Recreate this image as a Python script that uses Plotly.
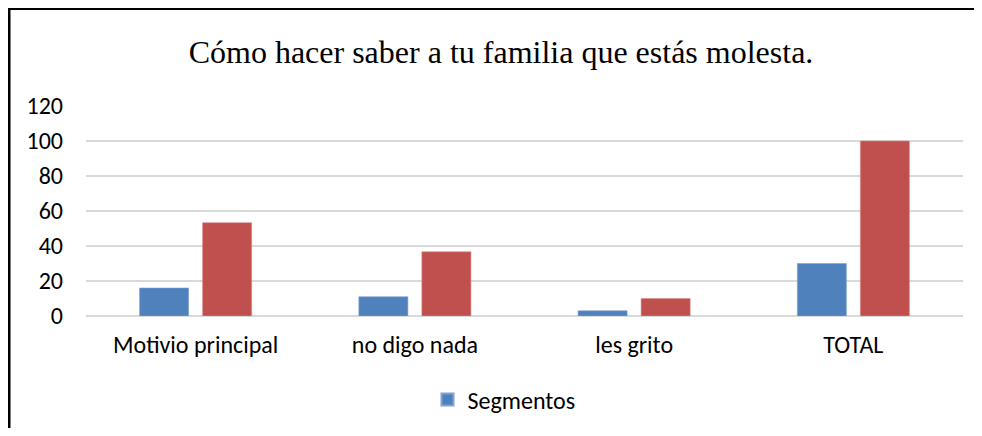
import plotly.graph_objects as go

categories = ["Motivio principal", "no digo nada", "les grito", "TOTAL"]
segmentos = [16, 11, 3, 30]
porcentaje = [53.33, 36.67, 10, 100]
y_ticks = [0, 20, 40, 60, 80, 100, 120]

OFF = 8  # default page body margin
W, H = 982 - OFF, 436 - 2 * OFF
L, T = 86 - OFF, 106 - OFF
R = W - (963 - OFF)
B = H - (316 - OFF)
pw, ph = W - L - R, H - T - B

def px(x):
    return (x - OFF - L) / pw

def py(y):
    return (H - B - (y - OFF)) / ph

fig = go.Figure()
fig.add_trace(go.Bar(x=categories, y=segmentos, name="Segmentos",
                     marker=dict(color="#4F81BD", line=dict(color="#7fa3d0", width=0.6))))
fig.add_trace(go.Bar(x=categories, y=porcentaje, name="Porcentaje", showlegend=False,
                     marker=dict(color="#C0504D", line=dict(color="#d98a88", width=0.6))))

border_path = "M {:.5f},{:.5f} L {:.5f},{:.5f} L {:.5f},{:.5f}".format(
    px(9), py(436), px(9), py(8.5), px(982), py(8.5))

fig.update_layout(
    width=W, height=H,
    margin=dict(l=L, r=R, t=T, b=B),
    paper_bgcolor="white", plot_bgcolor="white",
    barmode="group", bargap=0.425, bargroupgap=0.222,
    font=dict(family="Carlito, Lato, sans-serif", size=24, color="#000000"),
    title=dict(text="Cómo hacer saber a tu familia que estás molesta.",
               font=dict(family="Liberation Serif, Times New Roman, serif", size=32, color="#000000"),
               x=(501 - OFF) / W, xanchor="center", y=1 - (52 - OFF) / H, yanchor="middle"),
    showlegend=True,
    legend=dict(orientation="h", xref="container", yref="container",
                x=(504 - OFF) / W, xanchor="center", y=1 - (400 - OFF) / H, yanchor="middle",
                font=dict(size=24), itemwidth=30, itemsizing="constant"),
    xaxis=dict(showgrid=False, showline=False, ticks="", ticklabelstandoff=12, automargin=False),
    yaxis=dict(range=[0, 120], tickvals=y_ticks, showgrid=True, gridcolor="#d9d9d9", gridwidth=1.5,
               zeroline=True, zerolinecolor="#d9d9d9", zerolinewidth=1.5, showline=False,
               ticks="", ticklabelstandoff=22, automargin=False),
    shapes=[
        dict(type="path", xref="paper", yref="paper", path=border_path,
             line=dict(color="black", width=3)),
    ],
)

fig.write_html("out.html")
